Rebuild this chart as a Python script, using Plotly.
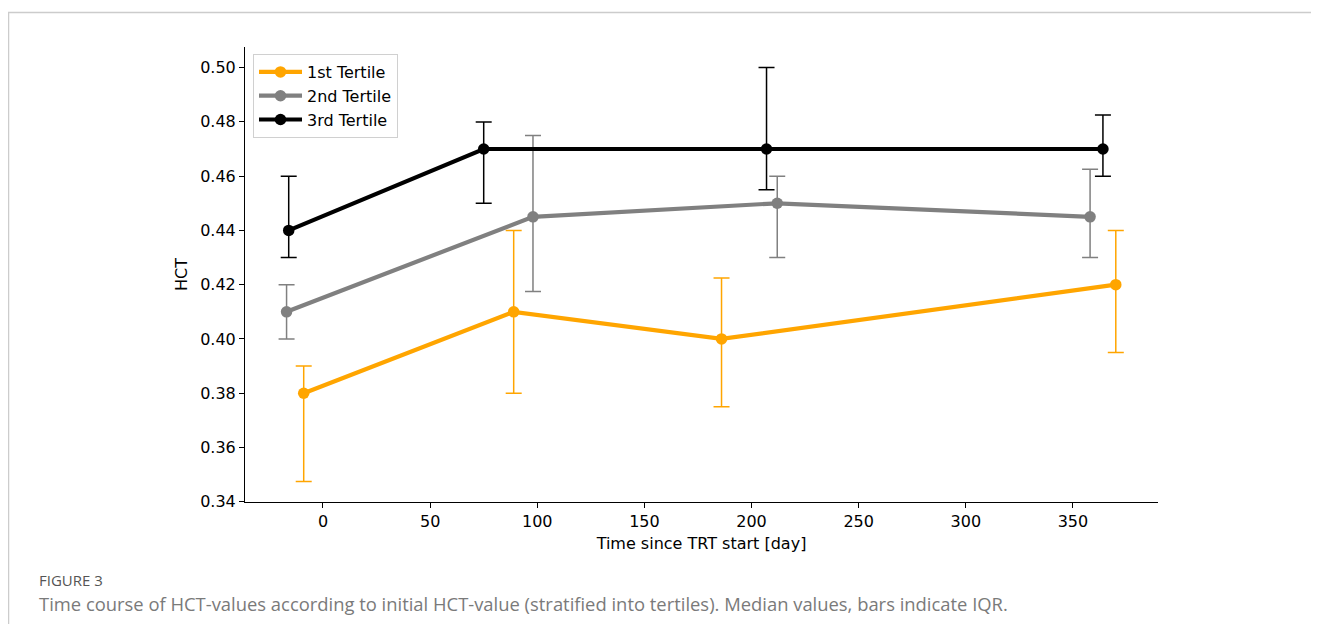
import plotly.graph_objects as go

# ---- data ----
series_names = ["1st Tertile", "2nd Tertile", "3rd Tertile"]
series_colors = ["#FFA500", "#808080", "#000000"]

x_t1 = [-9, 89, 186, 370]
y_t1 = [0.38, 0.41, 0.40, 0.42]
lo_t1 = [0.3475, 0.38, 0.375, 0.395]
hi_t1 = [0.39, 0.44, 0.4225, 0.44]

x_t2 = [-17, 98, 212, 358]
y_t2 = [0.41, 0.445, 0.45, 0.445]
lo_t2 = [0.40, 0.4175, 0.43, 0.43]
hi_t2 = [0.42, 0.475, 0.46, 0.4625]

x_t3 = [-16, 75, 207, 364]
y_t3 = [0.44, 0.47, 0.47, 0.47]
lo_t3 = [0.43, 0.45, 0.455, 0.46]
hi_t3 = [0.46, 0.48, 0.50, 0.4825]

x_ticks = [0, 50, 100, 150, 200, 250, 300, 350]
y_ticks = [0.34, 0.36, 0.38, 0.40, 0.42, 0.44, 0.46, 0.48, 0.50]

x_title = "Time since TRT start [day]"
y_title = "HCT"
fig_label = "FIGURE 3"
caption = ("Time course of HCT-values according to initial HCT-value (stratified into tertiles). "
           "Median values, bars indicate IQR.")

series = [
    (x_t1, y_t1, lo_t1, hi_t1),
    (x_t2, y_t2, lo_t2, hi_t2),
    (x_t3, y_t3, lo_t3, hi_t3),
]

# figure geometry (page has an 8px body margin)
W, H = 1303, 616
L, R, T, B = 237, 153, 39, 122
PW, PH = W - L - R, H - T - B


def px(xf):
    return (xf - L) / PW


def py(yf):
    return (H - B - yf) / PH


fig = go.Figure()
for i, ((xs, ys, lo, hi), name, col) in enumerate(zip(series, series_names, series_colors)):
    fig.add_trace(go.Scatter(
        x=xs, y=ys, name=name, mode="lines+markers",
        line=dict(color=col, width=4.2),
        marker=dict(color=col, size=11.5),
        legendgroup=f"g{i}",
        error_y=dict(
            type="data", symmetric=False,
            array=[h - y for h, y in zip(hi, ys)],
            arrayminus=[y - l for l, y in zip(lo, ys)],
            color=col, thickness=1.5, width=8,
        ),
    ))

font_main = "DejaVu Sans, sans-serif"

fig.update_layout(
    width=W, height=H,
    margin=dict(l=L, r=R, t=T, b=B),
    paper_bgcolor="white", plot_bgcolor="white",
    font=dict(family=font_main, size=16, color="black"),
    showlegend=True,
    legend=dict(
        x=px(245), y=py(46), xanchor="left", yanchor="top",
        bgcolor="rgba(255,255,255,0.8)", bordercolor="#d0d0d0", borderwidth=1,
        font=dict(family=font_main, size=16, color="black"),
        traceorder="grouped", tracegroupgap=0, itemwidth=43,
    ),
    xaxis=dict(
        range=[-36.4, 389.7], tickvals=x_ticks, ticktext=[str(v) for v in x_ticks],
        showline=True, linecolor="black", linewidth=1, mirror=False,
        ticks="outside", ticklen=5, tickwidth=1, tickcolor="black",
        showgrid=False, zeroline=False,
        title=dict(text=x_title, standoff=7, font=dict(size=16)),
    ),
    yaxis=dict(
        range=[0.3399, 0.5076], tickvals=y_ticks, ticktext=[f"{v:.2f}" for v in y_ticks],
        showline=True, linecolor="black", linewidth=1, mirror=False,
        ticks="outside", ticklen=5, tickwidth=1, tickcolor="black",
        showgrid=False, zeroline=False,
        title=dict(text=y_title, standoff=8, font=dict(size=16)),
    ),
    shapes=[dict(
        type="rect", xref="paper", yref="paper",
        x0=px(0.5), x1=px(W + 20),
        y0=py(H + 20), y1=py(4.5),
        line=dict(color="#cccccc", width=1.5), fillcolor="rgba(0,0,0,0)",
        layer="below",
    )],
    annotations=[
        dict(text=fig_label, xref="paper", yref="paper",
             x=px(29), y=py(572), xanchor="left", yanchor="middle",
             showarrow=False, font=dict(family="Open Sans, sans-serif", size=15, color="#555555")),
        dict(text=caption, xref="paper", yref="paper",
             x=px(28.5), y=py(595), xanchor="left", yanchor="middle",
             showarrow=False, font=dict(family="Open Sans, sans-serif", size=18.4, color="#7a7a7a")),
    ],
)

fig.write_html("out.html")
